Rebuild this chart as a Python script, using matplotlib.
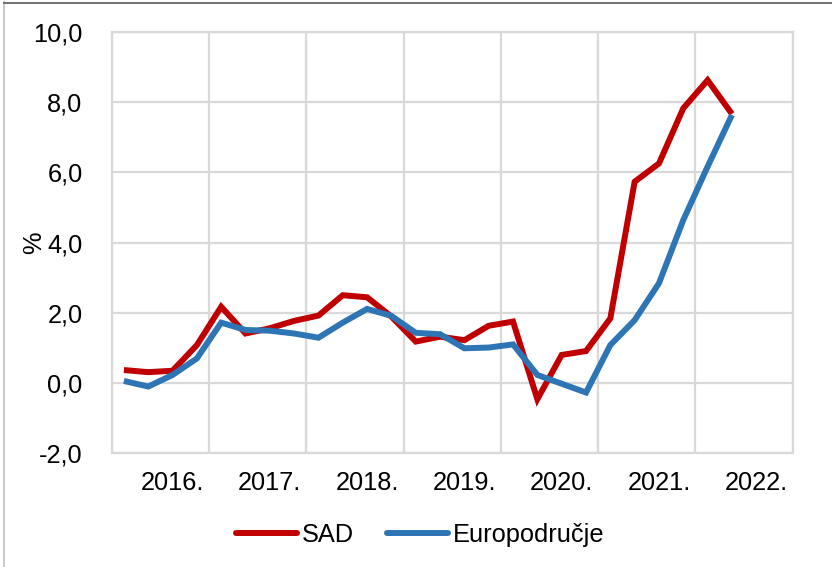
import matplotlib
matplotlib.use("Agg")
import matplotlib.pyplot as plt
from matplotlib.lines import Line2D

years = ["2016.", "2017.", "2018.", "2019.", "2020.", "2021.", "2022."]
sad = [0.37, 0.31, 0.35, 1.08, 2.17, 1.41, 1.56, 1.77, 1.92, 2.50, 2.44, 1.89, 1.18,
       1.32, 1.22, 1.63, 1.75, -0.46, 0.80, 0.91, 1.84, 5.73, 6.25, 7.82, 8.62, 7.66]
euro = [0.06, -0.10, 0.23, 0.70, 1.72, 1.51, 1.49, 1.41, 1.29, 1.72, 2.11, 1.91, 1.43,
        1.39, 0.99, 1.01, 1.10, 0.23, -0.02, -0.27, 1.08, 1.79, 2.84, 4.64, 6.16, 7.63]
yticks = [-2, 0, 2, 4, 6, 8, 10]

plt.rcParams['font.family'] = ['Liberation Sans', 'DejaVu Sans']
FS = 18.3

fig = plt.figure(figsize=(8.32, 5.67), dpi=100)
ax = fig.add_axes([0.1343, 0.2005, 0.8185, 0.7436])

x = [i + 0.5 for i in range(len(sad))]
red = '#C00000'
blue = '#2E75B6'
LW = 4.3
ax.plot(x, sad, color=red, lw=LW, solid_joinstyle='miter', solid_capstyle='butt', zorder=3)
ax.plot(x, euro, color=blue, lw=LW, solid_joinstyle='miter', solid_capstyle='butt', zorder=3)

nyear = len(years)
ax.set_xlim(0, 4 * nyear)
ax.set_ylim(yticks[0], yticks[-1])
ax.set_xticks([4 * k for k in range(nyear + 1)])
ax.set_xticklabels([])
ax.set_xticks([4 * k + 2.5 for k in range(nyear)], minor=True)
ax.set_xticklabels(years, minor=True)
ax.set_yticks(yticks)
ax.set_yticklabels([f"{v:.1f}".replace('.', ',') for v in yticks])
ax.tick_params(axis='both', which='both', length=0, labelsize=FS, colors='#000000')
ax.tick_params(axis='y', pad=21)
ax.tick_params(axis='x', which='minor', pad=13)
ax.grid(True, which='major', color='#D9D9D9', lw=1.6, zorder=0)
for s in ax.spines.values():
    s.set_color('#D9D9D9')
    s.set_linewidth(1.6)
ax.set_ylabel('%', fontsize=FS, labelpad=8)
ax.yaxis.set_label_coords(-0.097, 0.5)

handles = [Line2D([], [], color=red, lw=LW, solid_capstyle='round'),
           Line2D([], [], color=blue, lw=LW, solid_capstyle='round')]
fig.legend(handles, ['SAD', 'Europodručje'], loc='center', bbox_to_anchor=(0.505, 0.057),
           ncol=2, frameon=False, fontsize=FS, handlelength=2.4, handletextpad=0.2,
           columnspacing=1.3)

# outer border (left and top)
fig.add_artist(Line2D([3.5 / 832, 3.5 / 832], [0, 1 - 2 / 567], transform=fig.transFigure,
                      color='#BFBFBF', lw=1.2))
fig.add_artist(Line2D([3.5 / 832, 1], [1 - 2.5 / 567, 1 - 2.5 / 567], transform=fig.transFigure,
                      color='#595959', lw=1.2))

fig.savefig('out.png', dpi=100)
